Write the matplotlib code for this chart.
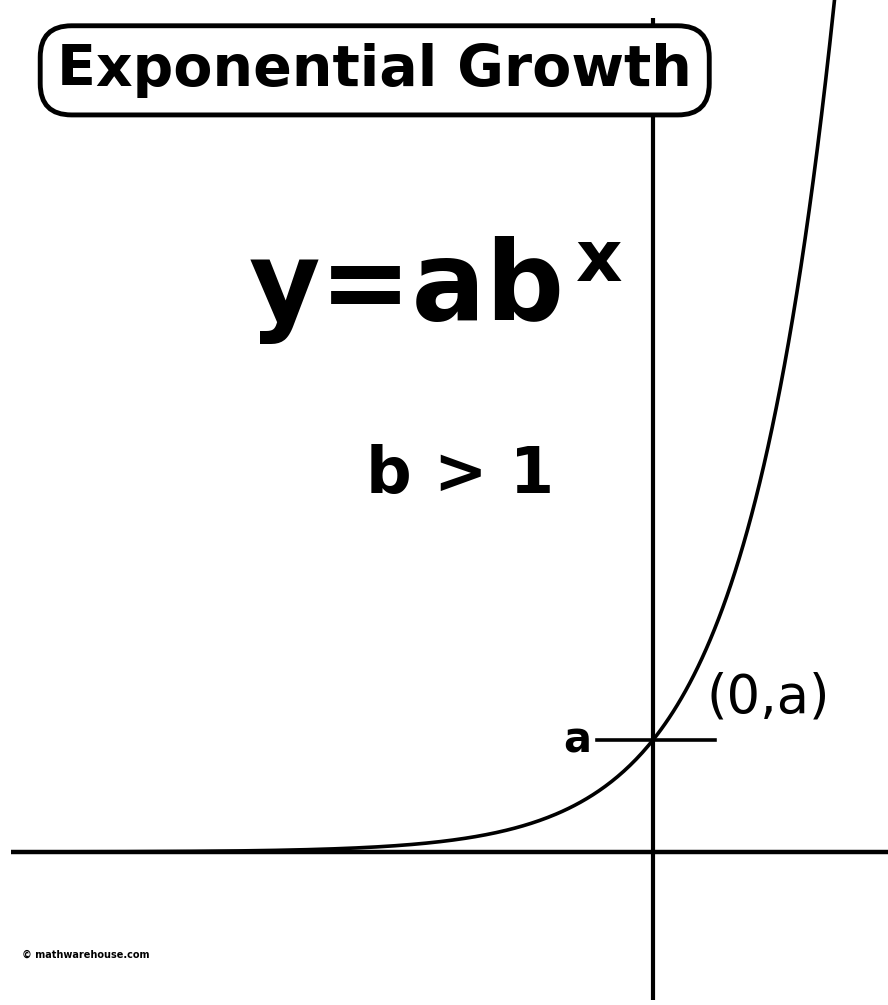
import numpy as np
import matplotlib.pyplot as plt

# y = a * b**x with b > 1
a = 1.0
b = 2.0
x_curve = np.linspace(-10.3, 2.95, 400)
y_curve = a * b ** x_curve

fig = plt.figure(figsize=(8.88, 10.05), dpi=100)
ax = fig.add_axes([0, 0, 1, 1])
ax.set_xlim(-10.53, 3.79)
ax.set_ylim(-1.366, 7.607)
ax.axis("off")

# coordinate axes
ax.plot([-10.35, 3.79], [0, 0], color="black", lw=3.2, solid_capstyle="butt")
ax.plot([0, 0], [-1.32, 7.45], color="black", lw=3.0, solid_capstyle="butt")

# the curve
ax.plot(x_curve, y_curve, color="black", lw=2.6)

# y-intercept marker
ax.plot([-0.9, 1.0], [a, a], color="black", lw=2.6)
ax.text(-1.0, a, "a", ha="right", va="center", fontsize=30, fontweight="bold")
ax.text(0.87, 1.25, "(0,a)", ha="left", va="baseline", fontsize=38)

# title box
ax.text(0.422, 0.930, "Exponential Growth", transform=ax.transAxes,
        ha="center", va="center", fontsize=41, fontweight="bold",
        bbox=dict(boxstyle="round,pad=0.3,rounding_size=0.55",
                  fc="white", ec="black", lw=3.5))

# formula
ax.text(0.636, 0.682, "y=ab", transform=ax.transAxes, ha="right",
        va="baseline", fontsize=79, fontweight="bold")
ax.text(0.648, 0.720, "x", transform=ax.transAxes, ha="left",
        va="baseline", fontsize=52, fontweight="bold")
ax.text(0.518, 0.509, "b > 1", transform=ax.transAxes, ha="center",
        va="baseline", fontsize=46, fontweight="bold")

ax.text(0.025, 0.050, "© mathwarehouse.com", transform=ax.transAxes,
        ha="left", va="center", fontsize=7, fontweight="bold")

fig.savefig("out.png", dpi=100, facecolor="white")
